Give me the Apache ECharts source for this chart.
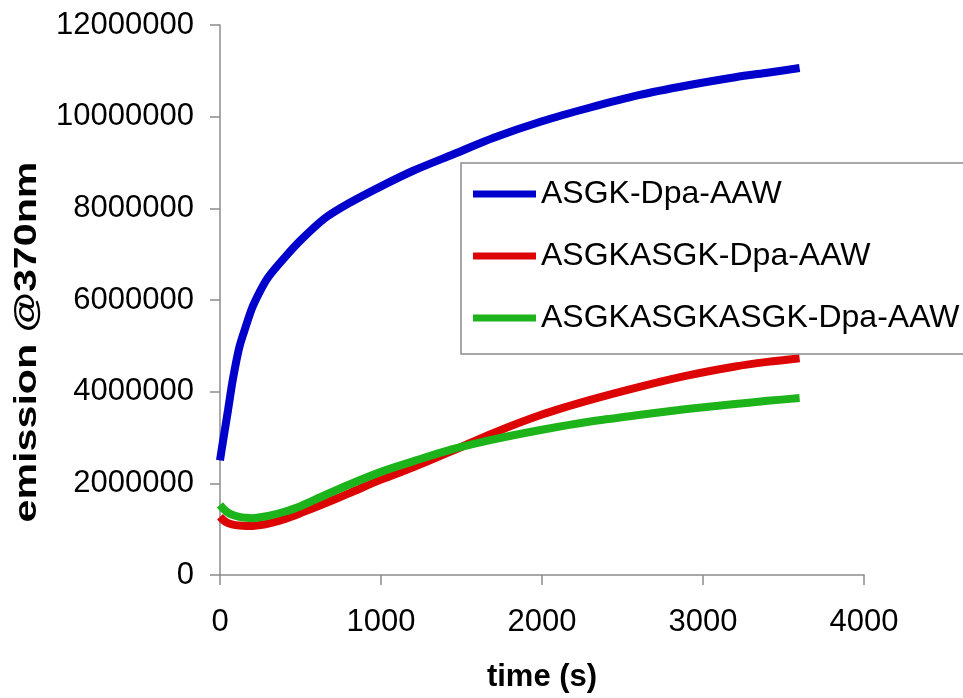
<!DOCTYPE html>
<html>
<head>
<meta charset="utf-8">
<title>emission @370nm</title>
<script src="https://cdn.jsdelivr.net/npm/echarts@6/dist/echarts.min.js"></script>
<style>
    html, body { margin: 0; padding: 0; background: #fff; }
    #chart { width: 963px; height: 698px; }
</style>
</head>
<body>
<div id="chart"></div>
<script>
// time points (s), shared by all three traces
var times = [0, 20, 50, 80, 120, 160, 200, 250, 300, 400, 500, 650, 800, 1000,
    1200, 1450, 1700, 2000, 2300, 2600, 2900, 3200, 3400, 3600];

var names = ['ASGK-Dpa-AAW', 'ASGKASGK-Dpa-AAW', 'ASGKASGKASGK-Dpa-AAW'];
var colors = ['#0000cc', '#dd0404', '#1db31a'];

// emission values
var asgk = [2500000, 2950000, 3600000, 4270000, 4970000, 5420000, 5830000, 6200000,
    6500000, 6920000, 7300000, 7780000, 8110000, 8480000, 8820000, 9180000, 9540000,
    9900000, 10200000, 10470000, 10680000, 10860000, 10960000, 11060000];
var asgk2 = [1270000, 1200000, 1130000, 1100000, 1080000, 1070000, 1070000, 1090000,
    1120000, 1220000, 1350000, 1560000, 1780000, 2080000, 2350000, 2720000, 3100000,
    3500000, 3820000, 4100000, 4350000, 4550000, 4650000, 4730000];
var asgk3 = [1530000, 1450000, 1360000, 1310000, 1270000, 1250000, 1240000, 1260000,
    1290000, 1380000, 1500000, 1740000, 1970000, 2250000, 2480000, 2750000, 2960000,
    3170000, 3350000, 3490000, 3620000, 3730000, 3800000, 3860000];

var xTicks = {min: 0, max: 4000, step: 1000};
var yTicks = {min: 0, max: 12000000, step: 2000000};

var FONT = 'Liberation Sans, Arial, sans-serif';

function pairs(vals)
{
    var out = [];
    for (var i = 0; i < vals.length; i++)
        out.push([times[i], vals[i]]);
    return out;
}

function makeSeries(i, vals)
{
    return {
        name: names[i],
        type: 'line',
        data: pairs(vals),
        smooth: 0.3,
        showSymbol: false,
        symbol: 'none',
        lineStyle: {color: colors[i], width: 8},
        itemStyle: {color: colors[i]},
        z: 2 + i
    };
}

function plain(v)
{
    return String(v);
}

var myChart = echarts.init(document.getElementById('chart'), null, {renderer: 'canvas'});

var axisLine = {show: true, lineStyle: {color: '#8c8c8c', width: 1.5}};
var axisTick = {show: true, length: 10, lineStyle: {color: '#8c8c8c', width: 1.5}};

option = {
    animation: false,
    backgroundColor: '#fff',
    grid: {
        left: 220, right: 99, top: 25, bottom: 123,
        containLabel: false,
        outerBoundsMode: 'none'
    },
    legend: {
        data: names,
        orient: 'vertical',
        left: 461,
        top: 163,
        icon: 'rect',
        itemWidth: 63,
        itemHeight: 7,
        itemGap: 30,
        padding: [15, 24, 20, 12],
        borderColor: '#8c8c8c',
        borderWidth: 1.5,
        backgroundColor: '#fff',
        textStyle: {fontFamily: FONT, fontSize: 32, lineHeight: 31, color: '#000'}
    },
    xAxis: {
        type: 'value',
        min: xTicks.min,
        max: xTicks.max,
        interval: xTicks.step,
        name: 'time (s)',
        nameLocation: 'middle',
        nameGap: 87,
        nameTextStyle: {fontFamily: FONT, fontSize: 31, fontWeight: 'bold', color: '#000'},
        axisLine: axisLine,
        axisTick: axisTick,
        splitLine: {show: false},
        axisLabel: {fontFamily: FONT, fontSize: 31, color: '#000', margin: 32, formatter: plain}
    },
    yAxis: {
        type: 'value',
        min: yTicks.min,
        max: yTicks.max,
        interval: yTicks.step,
        axisLine: axisLine,
        axisTick: axisTick,
        splitLine: {show: false},
        axisLabel: {fontFamily: FONT, fontSize: 31, color: '#000', margin: 26, formatter: plain}
    },
    graphic: [
        {
            type: 'text',
            x: 27,
            y: 342,
            rotation: Math.PI / 2,
            scaleX: 1.33,
            style: {
                text: 'emission @370nm',
                font: 'bold 31px ' + FONT,
                fill: '#000',
                align: 'center',
                verticalAlign: 'middle'
            }
        }
    ],
    series: [
        makeSeries(0, asgk),
        makeSeries(1, asgk2),
        makeSeries(2, asgk3)
    ]
};
myChart.setOption(option);
</script>
</body>
</html>
